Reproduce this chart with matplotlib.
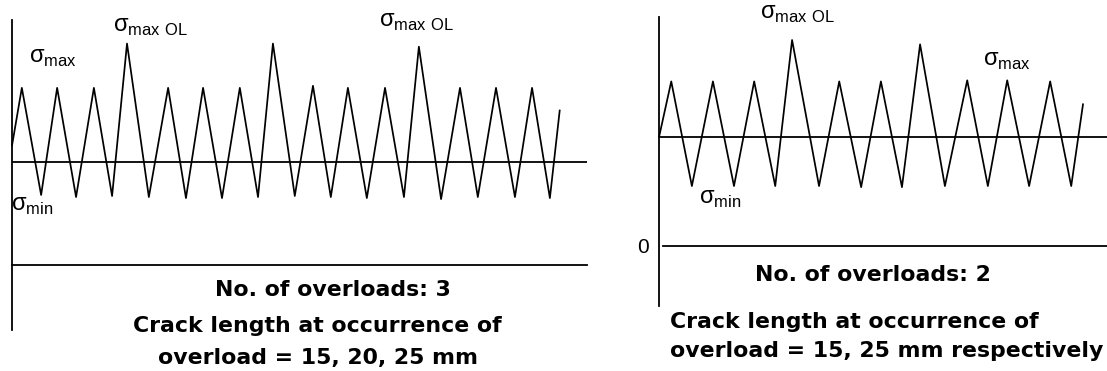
import numpy as np
import matplotlib.pyplot as plt

plt.rcParams['font.family'] = ['Liberation Sans', 'DejaVu Sans']
plt.rcParams['mathtext.fontset'] = 'custom'
plt.rcParams['mathtext.rm'] = 'Liberation Sans'

# left block: 3 overloads (time in cycles, stress in arbitrary units, mean = 100)
t_left = [0.00, 0.27, 0.80, 1.24, 1.76, 2.25, 2.75, 3.16, 3.76, 4.29, 4.78,
          5.25, 5.77, 6.26, 6.76, 7.17, 7.77, 8.27, 8.76, 9.23, 9.75, 10.25,
          10.77, 11.18, 11.79, 12.31, 12.80, 13.30, 13.82, 14.29, 14.78, 15.05]
s_left = [116, 172, 68, 172, 66, 172, 67, 215, 66, 172, 65,
          172, 65, 172, 66, 215, 67, 174, 66, 172, 65, 172,
          66, 212, 64, 172, 66, 172, 66, 172, 65, 150]
mean_left = 100

# right block: 2 overloads
t_right = [0.00, 0.29, 0.78, 1.28, 1.78, 2.26, 2.76, 3.16, 3.80, 4.28, 4.80,
           5.27, 5.77, 6.20, 6.79, 7.32, 7.81, 8.27, 8.79, 9.29, 9.79, 10.07]
s_right = [100, 151, 55, 151, 55, 151, 55, 189, 55, 151, 54,
           151, 54, 185, 55, 152, 55, 152, 55, 151, 55, 130]
mean_right = 100

W, H = 1107, 371
fig = plt.figure(figsize=(W/100, H/100), dpi=100)
ax1 = fig.add_axes([0, 0, 587/W, 1])
ax2 = fig.add_axes([590/W, 0, 517/W, 1])

lw_axis = 1.3
lw_wave = 1.25

def setup(ax, xlim, ylim, vbounds, hbounds):
    ax.set_xlim(*xlim)
    ax.set_ylim(*ylim)
    ax.patch.set_visible(False)
    for s in ['top', 'right']:
        ax.spines[s].set_visible(False)
    ax.spines['left'].set_position(('data', 0))
    ax.spines['left'].set_bounds(*vbounds)
    ax.spines['bottom'].set_position(('data', 0))
    ax.spines['bottom'].set_bounds(*hbounds)
    for s in ['left', 'bottom']:
        ax.spines[s].set_linewidth(lw_axis)
    ax.set_xticks([])
    ax.tick_params(axis='y', length=0)

bold = dict(fontsize=15.8, weight='bold', family='DejaVu Sans', va='baseline')
sig = dict(fontsize=17, va='baseline')

# ---- left
setup(ax1, (-0.33, 15.80), (-102.9, 257.3), (-63, 238), (0, 15.80))
ax1.set_yticks([])
ax1.hlines(mean_left, 0, 15.80, color='black', lw=lw_axis)
ax1.plot(t_left, s_left, color='black', lw=lw_wave)

ax1.text(0.48, 196.8, 'σ$_\\mathregular{max}$', **sig)
ax1.text(2.77, 226.2, 'σ$_\\mathregular{max\\ OL}$', **sig)
ax1.text(10.08, 231, 'σ$_\\mathregular{max\\ OL}$', **sig)
ax1.text(-0.03, 53, 'σ$_\\mathregular{min}$', **sig)

ax1.text(8.82, -30.1, 'No. of overloads: 3', ha='center', **bold)
ax1.text(8.38, -64.7, 'Crack length at occurrence of', ha='center', **bold)
ax1.text(8.41, -95.7, 'overload = 15, 20, 25 mm', ha='center', **bold)

# ---- right
setup(ax2, (-1.64, 10.64), (-114.7, 225.7), (-55, 210), (0.1, 10.64))
ax2.set_yticks([0])
ax2.set_yticklabels(['0'], fontsize=15)
ax2.tick_params(axis='y', pad=7)
ax2.hlines(mean_right, 0, 10.64, color='black', lw=lw_axis)
ax2.plot(t_right, s_right, color='black', lw=lw_wave)

ax2.text(2.40, 208.7, 'σ$_\\mathregular{max\\ OL}$', **sig)
ax2.text(7.70, 165.4, 'σ$_\\mathregular{max}$', **sig)
ax2.text(0.95, 38.8, 'σ$_\\mathregular{min}$', **sig)

ax2.text(5.08, -32.1, 'No. of overloads: 2', ha='center', **bold)
ax2.text(0.26, -75.3, 'Crack length at occurrence of', ha='left', **bold)
ax2.text(0.26, -101.8, 'overload = 15, 25 mm respectively', ha='left', **bold)

fig.savefig('out.png', dpi=100)
